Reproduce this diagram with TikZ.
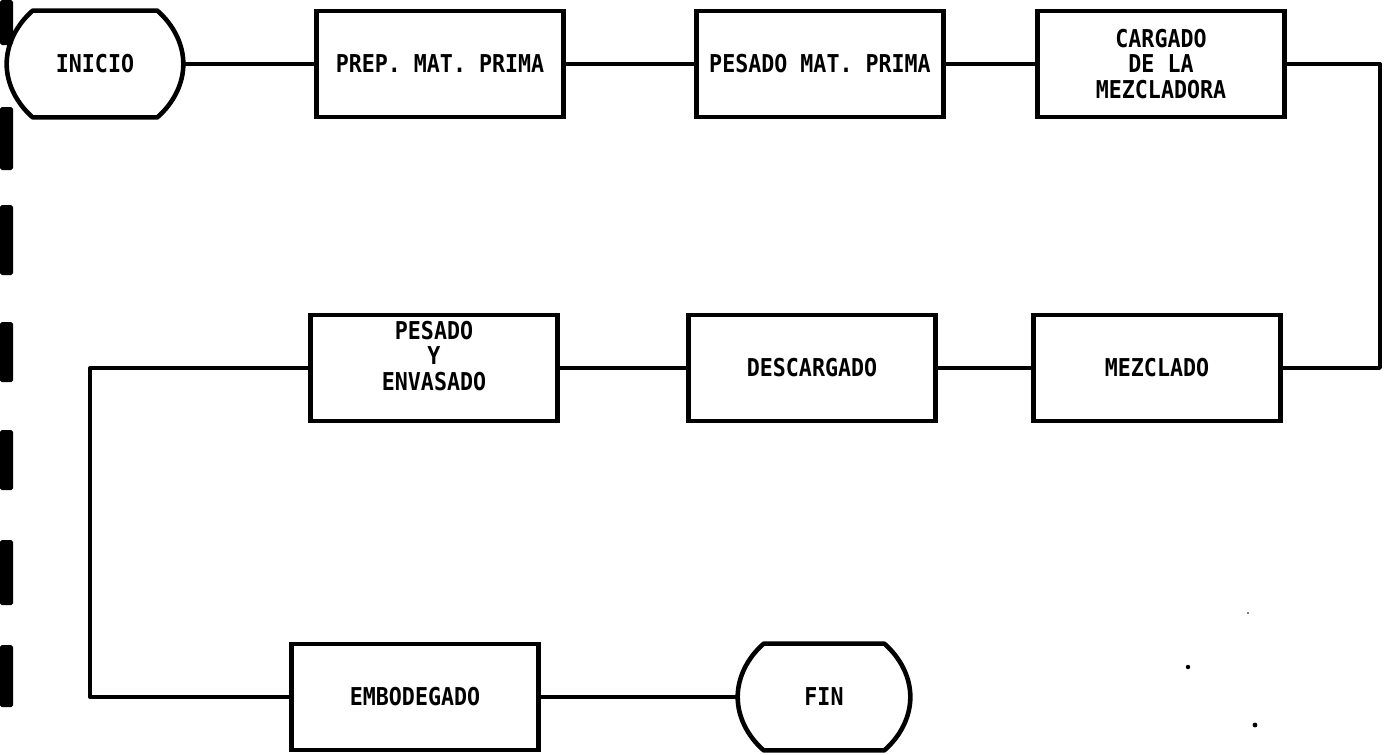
\documentclass[tikz,border=0pt]{standalone}
\usepackage{fontspec}
\newfontfamily\plotfont[FakeStretch=0.88]{DejaVu Sans Mono}
\usetikzlibrary{calc}

% terminal outline (flat top and bottom, bulged sides) round a named node
\newcommand{\termshape}[1]{%
	\draw[termline]
	($(#1.north west)+(26,0)$) -- ($(#1.north east)+(-26,0)$)
	.. controls ($(#1.north east)+(-10,14)$) and ($(#1.east)+(0,-20)$) .. (#1.east)
	.. controls ($(#1.east)+(0,20)$) and ($(#1.south east)+(-10,-14)$) .. ($(#1.south east)+(-26,0)$)
	-- ($(#1.south west)+(26,0)$)
	.. controls ($(#1.south west)+(10,-14)$) and ($(#1.west)+(0,20)$) .. (#1.west)
	.. controls ($(#1.west)+(0,-20)$) and ($(#1.north west)+(10,14)$) .. cycle;}

\begin{document}
\begin{tikzpicture}[
			x=0.02cm, y=-0.02cm,
			proc/.style={
					draw,
					line width=2.7pt,
					minimum width=4.94cm,
					minimum height=2.12cm,
					align=center,
					font=\plotfont\bfseries\fontsize{14}{14.5}\selectfont
				},
			term/.style={
					draw=none,
					minimum height=2.12cm,
					font=\plotfont\bfseries\fontsize{14}{14.5}\selectfont
				},
			termline/.style={line width=2.6pt, line join=round},
			link/.style={line width=1.9pt}
		]
		\useasboundingbox (0,0) rectangle (1388,754);

		% binder strip on the left edge
		\foreach \ya/\yb in {0/45, 107/170, 205/275, 322/382, 430/490, 540/605, 645/707}
			\fill[rounded corners=1pt] (0,\ya) rectangle (13,\yb);

		% top row
		\node[term, minimum width=3.52cm] (inicio) at (95,64) {INICIO};
		\termshape{inicio}
		\node[proc] (prep) at (440,64) {PREP. MAT. PRIMA};
		\node[proc] (pesmat) at (820,64) {PESADO MAT. PRIMA};
		\node[proc] (carga) at (1161,64) {CARGADO\\DE LA\\MEZCLADORA};

		% middle row
		\node[proc] (mezcla) at (1157,368) {MEZCLADO};
		\node[proc] (descarga) at (812,368) {DESCARGADO};
		\node[proc, text depth=14pt] (pesenv) at (434,368) {PESADO\\Y\\ENVASADO};

		% bottom row
		\node[proc] (embod) at (415,697) {EMBODEGADO};
		\node[term, minimum width=3.44cm] (fin) at (824,697) {FIN};
		\termshape{fin}

		\coordinate (rturn) at (1380,64);
		\coordinate (lturn) at (90,368);

		\draw[link] (inicio.east) -- (prep.west);
		\draw[link] (prep.east) -- (pesmat.west);
		\draw[link] (pesmat.east) -- (carga.west);
		\draw[link, line join=round] (carga.east) -- (rturn) |- (mezcla.east);
		\draw[link] (mezcla.west) -- (descarga.east);
		\draw[link] (descarga.west) -- (pesenv.east);
		\draw[link, line join=round] (pesenv.west) -- (lturn) |- (embod.west);
		\draw[link] (embod.east) -- (fin.west);

		% stray specks of the scan
		\fill (1188,667) circle (2.2);
		\fill (1255,725) circle (2.4);
		\fill (1248,613) circle (0.8);
	\end{tikzpicture}
\end{document}
